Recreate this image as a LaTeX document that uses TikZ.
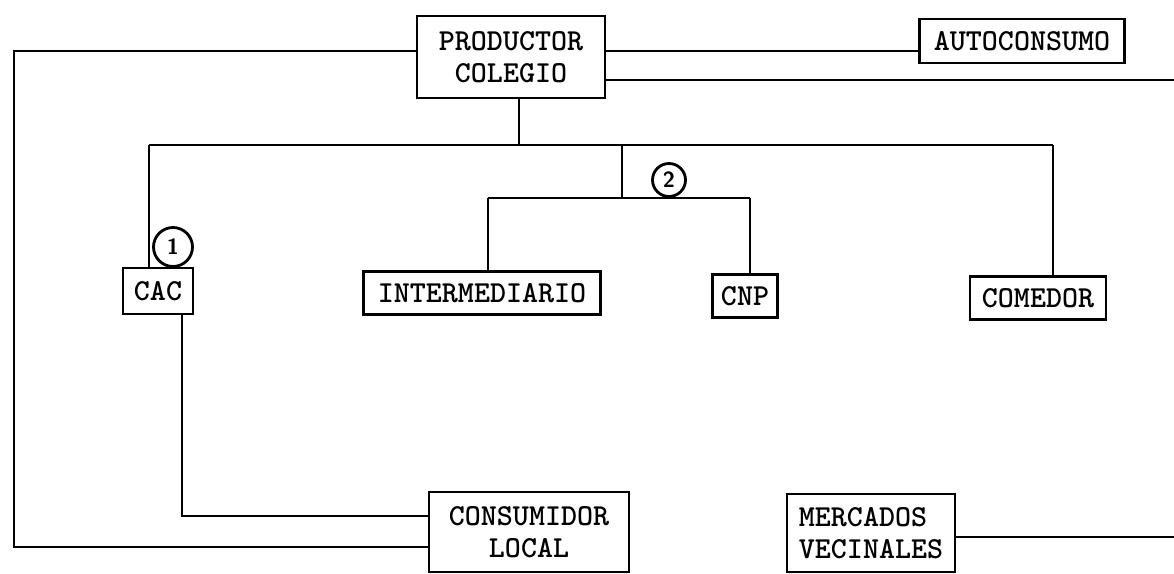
\documentclass[tikz,border=0pt]{standalone}
\begin{document}
\begin{tikzpicture}[x=1pt,y=-1pt,
  box/.style={draw, line width=2.6pt, inner sep=0pt, align=center,
    font=\fontsize{30.5}{32}\selectfont\ttfamily\bfseries},
  conn/.style={line width=2.8pt},
  circ/.style={draw, circle, line width=2.8pt, inner sep=0pt,
    font=\fontsize{22}{22}\selectfont\sffamily\bfseries}]
\useasboundingbox (0,0) rectangle (1174,573);
% nodes
\node[box, minimum width=188pt, minimum height=82pt] (prod) at (511,57) {PRODUCTOR\\COLEGIO};
\node[box, minimum width=205pt, minimum height=44pt] (auto) at (1022,41) {AUTOCONSUMO};
\node[box, minimum width=70pt, minimum height=46pt] (cac) at (158,291) {CAC};
\node[box, minimum width=237pt, minimum height=43pt] (inter) at (482,293) {INTERMEDIARIO};
\node[box, minimum width=65pt, minimum height=43pt] (cnp) at (745,296) {CNP};
\node[box, minimum width=136pt, minimum height=43pt] (comedor) at (1038,298) {COMEDOR};
\node[box, minimum width=200pt, minimum height=80pt] (cons) at (529,532) {CONSUMIDOR\\LOCAL};
\node[box, minimum width=168pt, minimum height=78pt, align=left] (merc) at (871,533) {MERCADOS\\VECINALES};
\node[circ, minimum size=39pt] (n1) at (173,247) {1};
\node[circ, minimum size=33pt] (n2) at (669,180) {2};
% coordinates
\coordinate (L1) at (14,51);
\coordinate (L2) at (14,547);
\coordinate (B1) at (149,145);
\coordinate (B2) at (1053,145);
\coordinate (P) at (519,145);
\coordinate (C1) at (622,145);
\coordinate (C2) at (622,198);
\coordinate (D1) at (488,198);
\coordinate (D2) at (750,198);
\coordinate (E1) at (182,516);
\coordinate (R1) at (1174,80);
\coordinate (R2) at (1174,537);
% connectors
\draw[conn] (prod.west |- L1) -- (L1) -- (L2) -- (cons.west |- L2);
\draw[conn] (prod.east |- L1) -- (auto.west |- L1);
\draw[conn] (prod.east |- R1) -- (R1);
\draw[conn] (prod.south -| P) -- (P);
\draw[conn] (B1) -- (B2);
\draw[conn] (B1) -- (B1 |- cac.north);
\draw[conn] (B2) -- (B2 |- comedor.north);
\draw[conn] (C1) -- (C2);
\draw[conn] (D1) -- (D2);
\draw[conn] (D1) -- (D1 |- inter.north);
\draw[conn] (D2) -- (D2 |- cnp.north);
\draw[conn] (cac.south -| E1) -- (E1) -- (cons.west |- E1);
\draw[conn] (merc.east |- R2) -- (R2);
\end{tikzpicture}
\end{document}
